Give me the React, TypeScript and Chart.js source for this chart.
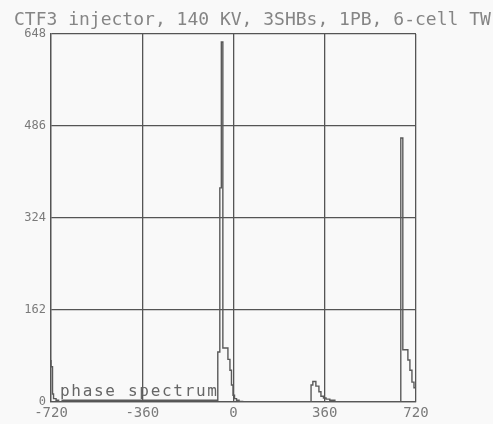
import React, { useEffect, useRef } from "react";
import { Chart, registerables } from "chart.js";

Chart.register(...registerables);

const titleText = "CTF3 injector, 140 KV, 3SHBs, 1PB, 6-cell TW";
const insideLabel = "phase spectrum";

const xTicks = [-720, -360, 0, 360, 720];
const yTicks = [0, 162, 324, 486, 648];

// histogram bin edges (degrees) and counts, stepped
const phaseDeg = [
  -720, -714, -710, -700, -690, -676,
  -62, -54, -48, -42, -22, -14, -8, -2, 4, 12, 22, 36, 56,
  306, 313, 325, 337, 345, 355, 365, 380, 400, 425,
  660, 668, 688, 696, 704, 712, 720,
];
const counts = [
  74, 62, 14, 6, 3, 0,
  3, 88, 377, 634, 95, 75, 56, 30, 12, 6, 3, 1, 0,
  0, 30, 36, 28, 18, 10, 7, 5, 3, 0,
  0, 465, 92, 74, 56, 35, 25,
];

const INK = "#555";
const TEXT = "#7a7a7a";

export default function App() {
  const ref = useRef<HTMLCanvasElement | null>(null);

  useEffect(() => {
    if (!ref.current) return;
    const bgPlugin = {
      id: "bg",
      beforeDraw(chart: any) {
        const c = chart.ctx;
        c.save();
        c.fillStyle = "#f9f9f9";
        c.fillRect(0, 0, chart.width, chart.height);
        c.restore();
      },
      afterDraw(chart: any) {
        const c = chart.ctx;
        const a = chart.chartArea;
        c.save();
        c.fillStyle = "#858585";
        c.textBaseline = "alphabetic";
        c.textAlign = "left";
        c.font = "18px 'DejaVu Sans Mono'";
        (c as any).letterSpacing = "0px";
        c.fillText(titleText, 14, 25);
        c.fillStyle = "#666";
        c.font = "16px 'DejaVu Sans Mono'";
        (c as any).letterSpacing = "1.7px";
        c.fillText(insideLabel, a.left + 9, a.bottom - 6);
        c.restore();
      },
    };

    const chart = new Chart(ref.current, {
      type: "line",
      data: {
        datasets: [
          {
            data: phaseDeg.map((x, i) => ({ x, y: counts[i] })),
            stepped: "after",
            borderColor: "#5a5a5a",
            borderWidth: 1.4,
            pointRadius: 0,
            fill: false,
          },
        ],
      },
      options: {
        responsive: false,
        animation: false,
        layout: { padding: { top: 34, right: 77, left: 0, bottom: 0 } },
        plugins: { legend: { display: false }, tooltip: { enabled: false }, title: { display: false } },
        scales: {
          x: {
            type: "linear",
            min: -720,
            max: 720,
            afterBuildTicks: (s: any) => {
              s.ticks = xTicks.map((v) => ({ value: v }));
            },
            afterFit: (s: any) => {
              s.height = 22;
            },
            ticks: {
              autoSkip: false,
              maxRotation: 0,
              padding: 3,
              color: TEXT,
              font: { family: "'DejaVu Sans Mono'", size: 14 },
            },
            grid: { color: INK, lineWidth: 1.3, drawTicks: false },
            border: { color: INK, width: 1.3 },
          },
          y: {
            type: "linear",
            min: 0,
            max: 648,
            afterBuildTicks: (s: any) => {
              s.ticks = yTicks.map((v) => ({ value: v }));
            },
            afterFit: (s: any) => {
              s.width = 51;
            },
            ticks: {
              autoSkip: false,
              padding: 5,
              color: TEXT,
              font: { family: "'DejaVu Sans Mono'", size: 12 },
            },
            grid: { color: INK, lineWidth: 1.3, drawTicks: false },
            border: { color: INK, width: 1.3 },
          },
        },
      },
      plugins: [bgPlugin],
    } as any);
    return () => chart.destroy();
  }, []);

  return (
    <div style={{ position: "fixed", left: 0, top: 0, width: 493, height: 424 }}>
      <canvas ref={ref} width={493} height={424} style={{ width: 493, height: 424, display: "block" }} />
    </div>
  );
}
